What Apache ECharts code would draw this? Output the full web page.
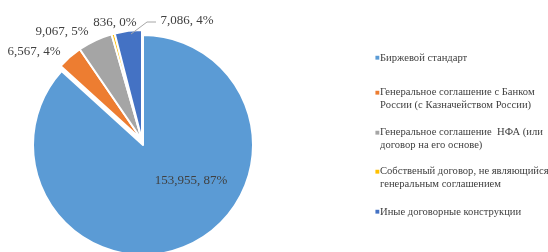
<!DOCTYPE html>
<html><head><meta charset="utf-8">
<script src="https://cdn.jsdelivr.net/npm/echarts@6/dist/echarts.min.js"></script>
<style>html,body{margin:0;padding:0;background:#fff}#c{width:548px;height:252px}</style>
</head><body><div id="c"></div>
<script>
const categories = [
  'Биржевой стандарт',
  'Генеральное соглашение с Банком России (с Казначейством России)',
  'Генеральное соглашение  НФА (или договор на его основе)',
  'Собственый договор, не являющийся генеральным соглашением',
  'Иные договорные конструкции'
];
const legendLines = [
  ['Биржевой стандарт'],
  ['Генеральное соглашение с Банком', 'России (с Казначейством России)'],
  ['Генеральное соглашение  НФА (или', 'договор на его основе)'],
  ['Собственый договор, не являющийся', 'генеральным соглашением'],
  ['Иные договорные конструкции']
];
const values = [153955, 6567, 9067, 836, 7086];
const percents = [87, 4, 5, 0, 4];
const colors = ['#5B9BD5', '#ED7D31', '#A5A5A5', '#FFC000', '#4472C4'];
const titleText = '(объем, трлн. руб.)';

const labelPos = [
  {x: 191, y: 181},
  {x: 34, y: 52},
  {x: 62, y: 32},
  {x: 115, y: 23},
  {x: 187, y: 21}
];
const legendTops = [51, 87, 127, 166, 205];

const fmt = n => n.toLocaleString('en-US');
const serif = '"Liberation Serif", "Times New Roman", serif';
const clear = 'rgba(0,0,0,0)';

const legends = categories.map((name, i) => {
  const rich = {
    m: {color: colors[i], fontSize: 5, width: 5, fontFamily: 'DejaVu Sans', verticalAlign: 'middle'},
    s: {width: 5, fontSize: 10},
    t: {color: '#404040', fontSize: 10.6, fontFamily: serif, lineHeight: 13}
  };
  return {
    data: [name],
    orient: 'vertical',
    left: 370,
    top: legendTops[i],
    icon: 'none',
    itemWidth: 0,
    itemGap: 0,
    padding: 0,
    selectedMode: false,
    formatter: () => legendLines[i].map((ln, k) => (k === 0 ? '{m|■}' : '{s| }') + '{t|' + ln + '}').join('\n'),
    textStyle: {rich: rich, padding: 0}
  };
});

const pieBase = {
  type: 'pie',
  radius: 110,
  startAngle: 90,
  clockwise: true,
  avoidLabelOverlap: false,
  emphasis: {disabled: true},
  labelLine: {show: false}
};

const chart = echarts.init(document.getElementById('c'), null, {renderer: 'canvas'});
chart.setOption({
  animation: false,
  title: {text: titleText, right: 208, top: -17, padding: 0, textStyle: {fontFamily: serif, fontSize: 16, fontWeight: 'normal', color: '#000'}},
  color: colors,
  legend: legends,
  graphic: [{
    type: 'polyline',
    shape: {points: [[131, 34], [147, 22], [156, 22]]},
    style: {stroke: '#a6a6a6', lineWidth: 1, fill: null},
    silent: true, z: 10
  }],
  series: [
    Object.assign({}, pieBase, {
      center: [143, 145],
      label: {
        show: true,
        position: 'center',
        formatter: p => fmt(values[p.dataIndex]) + ', ' + percents[p.dataIndex] + '%',
        fontFamily: serif, fontSize: 13, color: '#404040'
      },
      labelLayout: p => Object.assign({align: 'center', verticalAlign: 'middle'}, labelPos[p.dataIndex]),
      data: categories.map((name, i) => ({
        name: name,
        value: values[i],
        itemStyle: i === 0 ? {color: colors[i], borderColor: '#fff', borderWidth: 2}
                           : {color: clear, borderColor: clear, borderWidth: 0}
      }))
    }),
    Object.assign({}, pieBase, {
      center: [142, 140],
      silent: true,
      label: {show: false},
      data: categories.map((name, i) => ({
        name: name,
        value: values[i],
        itemStyle: i === 0 ? {color: clear, borderColor: clear, borderWidth: 0}
                           : {color: colors[i], borderColor: '#fff', borderWidth: 2}
      }))
    })
  ]
});
</script></body></html>
